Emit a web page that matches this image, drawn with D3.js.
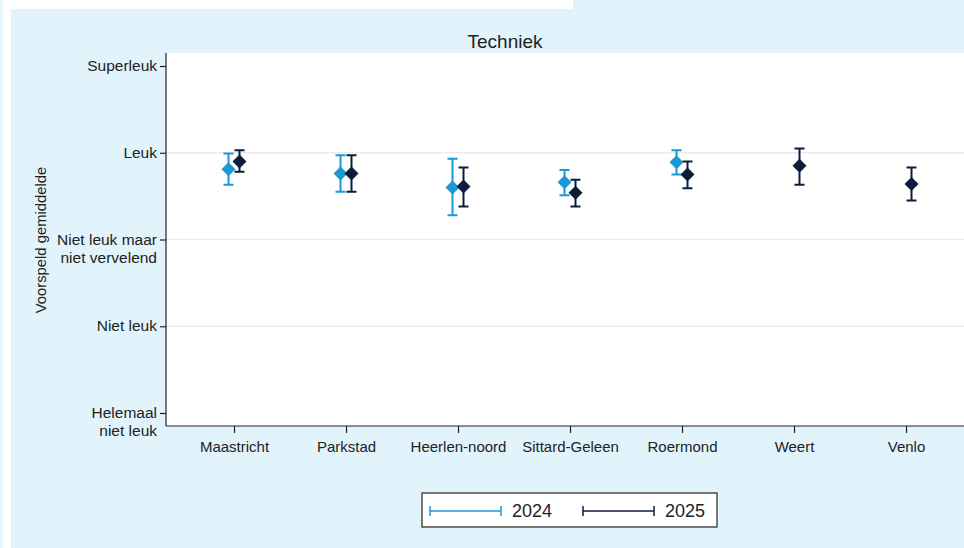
<!DOCTYPE html>
<html>
<head>
<meta charset="utf-8">
<style>
  body { margin: 0; background: #fff; }
  svg { display: block; font-family: "Liberation Sans", Arial, sans-serif; }
</style>
</head>
<body>
<svg width="964" height="548"></svg>
<script src="https://d3js.org/d3.v7.min.js"></script>
<script>
// regions on the x axis
var regions = ["Maastricht", "Parkstad", "Heerlen-noord", "Sittard-Geleen", "Roermond", "Weert", "Venlo"];

// y tick labels, 1 = lowest
var yLabels = [["Helemaal", "niet leuk"], ["Niet leuk"], ["Niet leuk maar", "niet vervelend"], ["Leuk"], ["Superleuk"]];

// predicted means with 95% CI per year (null = no data)
var mean2024 = [3.81, 3.76, 3.60, 3.66, 3.89, null, null];
var lo2024   = [3.63, 3.55, 3.28, 3.51, 3.75, null, null];
var hi2024   = [3.99, 3.97, 3.93, 3.80, 4.03, null, null];

var mean2025 = [3.90, 3.76, 3.61, 3.54, 3.75, 3.85, 3.64];
var lo2025   = [3.78, 3.55, 3.38, 3.38, 3.59, 3.63, 3.45];
var hi2025   = [4.03, 3.97, 3.83, 3.69, 3.90, 4.05, 3.83];

var series = [
    { name: "2024", color: "#1b98d6", mean: mean2024, lo: lo2024, hi: hi2024, dx: -5.5 },
    { name: "2025", color: "#0c1e3c", mean: mean2025, lo: lo2025, hi: hi2025, dx: 5.5 }
];

var svg = d3.select("svg"),
    W = 964, H = 548;

// backgrounds
svg.append("rect").attr("width", W).attr("height", H).attr("fill", "#ffffff");
svg.append("rect").attr("x", 0).attr("y", 0).attr("width", 3).attr("height", H).attr("fill", "#eaf6fc");
svg.append("rect").attr("x", 11).attr("y", 9).attr("width", W - 11).attr("height", H - 9).attr("fill", "#e1f4fc");
svg.append("rect").attr("x", 573).attr("y", 0).attr("width", W - 573).attr("height", 9).attr("fill", "#e1f4fc");

var plot = { left: 166, top: 53, right: 973, bottom: 426 };

svg.append("rect")
    .attr("x", plot.left).attr("y", plot.top)
    .attr("width", plot.right - plot.left).attr("height", plot.bottom - plot.top)
    .attr("fill", "#ffffff");

var x = d3.scalePoint().domain(regions).range([234, 906]);
var y = d3.scaleLinear().domain([0.85, 5.15]).range([plot.bottom, plot.top]);

// gridlines
svg.append("g").selectAll("line")
    .data([2, 3, 4])
    .join("line")
    .attr("x1", plot.left).attr("x2", plot.right)
    .attr("y1", function(d) { return y(d); }).attr("y2", function(d) { return y(d); })
    .attr("stroke", "#ececec").attr("stroke-width", 1.5);

// y axis
var yAxis = svg.append("g")
    .attr("transform", "translate(" + plot.left + ",0)")
    .call(d3.axisLeft(y).tickValues([1, 2, 3, 4, 5]).tickSize(6).tickFormat(""));
yAxis.select(".domain").attr("d", "M0," + plot.top + "V" + plot.bottom);
yAxis.selectAll("line, path").attr("stroke", "#222").attr("stroke-width", 1.2);

var yt = svg.append("g").selectAll("text")
    .data([1, 2, 3, 4, 5])
    .join("text")
    .attr("x", plot.left - 9)
    .attr("y", function(d) { return y(d) + 5; })
    .attr("text-anchor", "end")
    .attr("font-size", 15.5)
    .attr("fill", "#222");
yt.each(function(d) {
    var t = d3.select(this);
    yLabels[d - 1].forEach(function(s, i) {
        t.append("tspan").attr("x", plot.left - 9).attr("dy", i ? 18 : 0).text(s);
    });
});

// x axis
var xAxis = svg.append("g")
    .attr("transform", "translate(0," + plot.bottom + ")")
    .call(d3.axisBottom(x).tickSize(7).tickPadding(8));
xAxis.select(".domain").attr("d", "M" + plot.left + ",0H" + plot.right);
xAxis.selectAll("line, path").attr("stroke", "#222").attr("stroke-width", 1.2);
xAxis.selectAll("text")
    .attr("font-size", 15).attr("fill", "#222")
    .attr("font-family", "'Liberation Sans', Arial, sans-serif");

// y title
svg.append("text")
    .attr("transform", "translate(46,240) rotate(-90)")
    .attr("text-anchor", "middle")
    .attr("font-size", 14.8).attr("fill", "#222")
    .text("Voorspeld gemiddelde");

// title
svg.append("text")
    .attr("x", 505).attr("y", 48)
    .attr("text-anchor", "middle")
    .attr("font-size", 19).attr("fill", "#222")
    .text("Techniek");

// error bars and markers
var cap = 5, diam = 7;
series.forEach(function(s) {
    var g = svg.append("g");
    var pts = regions.map(function(r, i) {
        return { r: r, m: s.mean[i], lo: s.lo[i], hi: s.hi[i] };
    }).filter(function(d) { return d.m != null; });

    var cx = function(d) { return x(d.r) + s.dx; };

    g.selectAll(".bar").data(pts).join("path")
        .attr("d", function(d) {
            var X = cx(d), a = y(d.hi), b = y(d.lo);
            return "M" + X + "," + a + "V" + b +
                "M" + (X - cap) + "," + a + "H" + (X + cap) +
                "M" + (X - cap) + "," + b + "H" + (X + cap);
        })
        .attr("stroke", s.color).attr("stroke-width", 2).attr("fill", "none");

    g.selectAll(".pt").data(pts).join("path")
        .attr("d", function(d) {
            var X = cx(d), Y = y(d.m);
            return "M" + X + "," + (Y - diam) + "L" + (X + diam) + "," + Y +
                "L" + X + "," + (Y + diam) + "L" + (X - diam) + "," + Y + "Z";
        })
        .attr("fill", s.color);
});

// legend
var leg = svg.append("g").attr("transform", "translate(422,493)");
leg.append("rect").attr("width", 295).attr("height", 34)
    .attr("fill", "#ffffff").attr("stroke", "#222").attr("stroke-width", 1.2);
series.forEach(function(s, i) {
    var ox = 8 + i * 153;
    leg.append("path")
        .attr("d", "M" + ox + ",18H" + (ox + 71) +
            "M" + ox + ",13V23M" + (ox + 71) + ",13V23")
        .attr("stroke", s.color).attr("stroke-width", 1.5).attr("fill", "none");
    leg.append("text")
        .attr("x", ox + 82).attr("y", 24)
        .attr("font-size", 18).attr("fill", "#222")
        .text(s.name);
});
</script>
</body>
</html>
